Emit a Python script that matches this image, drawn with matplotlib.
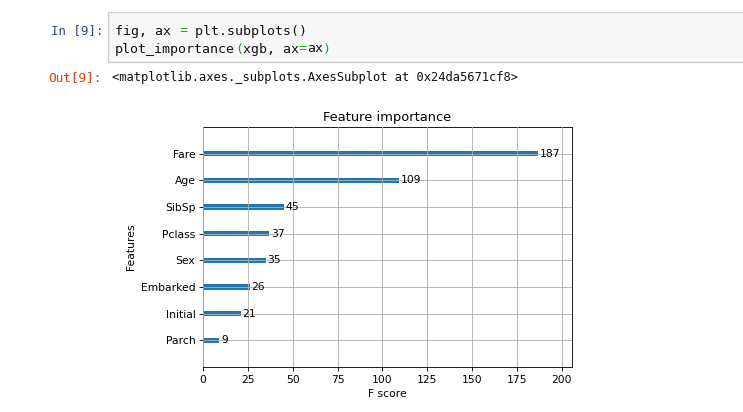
import matplotlib
matplotlib.use("Agg")
import matplotlib.pyplot as plt
from matplotlib.patches import Rectangle

features = ['Parch', 'Initial', 'Embarked', 'Sex', 'Pclass', 'SibSp', 'Age', 'Fare']
scores = [9, 21, 26, 35, 37, 45, 109, 187]
xticks = [0, 25, 50, 75, 100, 125, 150, 175, 200]

W, H, DPI = 743, 412, 100
fig = plt.figure(figsize=(W / DPI, H / DPI), dpi=DPI)
fig.patch.set_facecolor('white')

def px(x, y):
    return x / W, 1 - y / H

# ---- notebook cell chrome ----
r = Rectangle(px(108, 62), (W + 5 - 108) / W, 50 / H, transform=fig.transFigure,
              facecolor='#f7f7f7', edgecolor='#cfcfcf', linewidth=1.0, zorder=0)
fig.patches.append(r)

mono = 'DejaVu Sans Mono'

def mono_line(x0, yb, segments, size):
    adv = 0.60205 * size * DPI / 72.0
    i = 0
    for txt, col in segments:
        fig.text(*px(x0 + i * adv, yb), txt, family=mono, size=size, color=col,
                 va='baseline', ha='left')
        i += len(txt)

mono_line(51, 34.5, [('In [9]:', '#303F9F')], 8.9)
mono_line(48, 81.5, [('Out[9]:', '#D84315')], 9.2)
green = '#22a022'
mono_line(115, 34.5, [('fig, ax ', '#111111'), ('=', green), (' plt.subplots()', '#111111')], 9.55)
mono_line(115, 52.5, [('plot_importance', '#111111'), ('(', green), ('xgb, ax', '#111111'),
                      ('=', green), ('ax', '#111111'), (')', green)], 9.55)
mono_line(112, 81.5, [('<matplotlib.axes._subplots.AxesSubplot at 0x24da5671cf8>', '#111111')], 8.77)

# ---- chart ----
s = 0.778  # point scale
left, right, top, bottom = 203, 572, 127, 367
ax = fig.add_axes([left / W, 1 - bottom / H, (right - left) / W, (bottom - top) / H])
ypos = list(range(len(features)))
ax.barh(ypos, scores, height=0.2, align='center', color='#1f77b4')
for y, v in zip(ypos, scores):
    ax.text(v + 1, y, str(v), va='center', fontsize=10 * s)
ax.set_yticks(ypos)
ax.set_yticklabels(features)
ax.set_xticks(xticks)
ax.set_xlim(0, max(scores) * 1.1)
ax.set_ylim(-1, len(features))
ax.grid(True, color='#b0b0b0', linewidth=0.8 * s)
ax.set_axisbelow(False)
ax.set_title('Feature importance', fontsize=12 * s, pad=6 * s)
ax.set_xlabel('F score', fontsize=10 * s, labelpad=4 * s)
ax.set_ylabel('Features', fontsize=10 * s, labelpad=4 * s)
ax.tick_params(labelsize=10 * s, length=3.5 * s, width=0.8 * s, pad=3.5 * s)
for sp in ax.spines.values():
    sp.set_linewidth(0.8 * s)

fig.savefig('out.png', dpi=DPI)
